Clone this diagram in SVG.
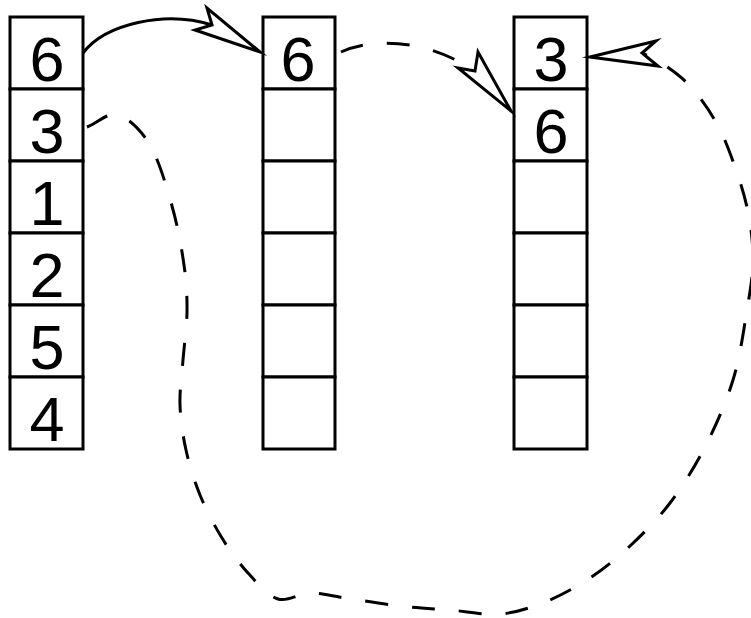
<svg xmlns="http://www.w3.org/2000/svg" width="751" height="618" viewBox="0 0 751 618">
<style>
.cell{fill:#fff;stroke:#000;stroke-width:3}
.num{font-family:"Liberation Sans",Arial,sans-serif;font-size:63px;fill:#000;text-anchor:middle}
.edge{fill:none;stroke:#000;stroke-width:3}
.dash{stroke-dasharray:23 24}
.head{fill:#fff;stroke:#000;stroke-width:3;stroke-linejoin:miter;stroke-miterlimit:10}
</style>
<g id="column-a">
<g id="a1"><rect class="cell" x="10" y="17" width="73" height="72"/><text class="num" x="47" y="81">6</text></g>
<g id="a2"><rect class="cell" x="10" y="89" width="73" height="72"/><text class="num" x="47" y="153">3</text></g>
<g id="a3"><rect class="cell" x="10" y="161" width="73" height="72"/><text class="num" x="47" y="225">1</text></g>
<g id="a4"><rect class="cell" x="10" y="233" width="73" height="72"/><text class="num" x="47" y="297">2</text></g>
<g id="a5"><rect class="cell" x="10" y="305" width="73" height="72"/><text class="num" x="47" y="369">5</text></g>
<g id="a6"><rect class="cell" x="10" y="377" width="73" height="72"/><text class="num" x="47" y="441">4</text></g>
</g>
<g id="column-b">
<g id="b1"><rect class="cell" x="263" y="17" width="72" height="72"/><text class="num" x="298" y="81">6</text></g>
<g id="b2"><rect class="cell" x="263" y="89" width="72" height="72"/></g>
<g id="b3"><rect class="cell" x="263" y="161" width="72" height="72"/></g>
<g id="b4"><rect class="cell" x="263" y="233" width="72" height="72"/></g>
<g id="b5"><rect class="cell" x="263" y="305" width="72" height="72"/></g>
<g id="b6"><rect class="cell" x="263" y="377" width="72" height="72"/></g>
</g>
<g id="column-c">
<g id="c1"><rect class="cell" x="514" y="17" width="73" height="72"/><text class="num" x="551" y="81">3</text></g>
<g id="c2"><rect class="cell" x="514" y="89" width="73" height="72"/><text class="num" x="551" y="153">6</text></g>
<g id="c3"><rect class="cell" x="514" y="161" width="73" height="72"/></g>
<g id="c4"><rect class="cell" x="514" y="233" width="73" height="72"/></g>
<g id="c5"><rect class="cell" x="514" y="305" width="73" height="72"/></g>
<g id="c6"><rect class="cell" x="514" y="377" width="73" height="72"/></g>
</g>
<g id="connectors">
<path class="edge" d="M83,53 C105,24 165,10 212,25"/>
<polygon class="head" points="260,52 207,8 212,25 195,30"/>
<path class="edge dash" d="M341,52 C372,38 425,38 475,71"/>
<polygon class="head" points="511,111 478,52 475,71 458,68"/>
<path class="edge dash" d="M87,127 C97.3,123 107.5,112 118,115 C128.5,118 141,129.8 150,145 C159,160.2 166.3,186 172,206 C177.7,226 181.5,247.3 184,265 C186.5,282.7 187.2,296.2 187,312 C186.8,327.8 184.2,344.5 183,360 C181.8,375.5 179.5,390 180,405 C180.5,420 182.7,435 186,450 C189.3,465 194,480.3 200,495 C206,509.7 214,525 222,538 C230,551 238.7,562.8 248,573 C257.3,583.2 267.7,595.7 278,599 C288.3,602.3 298.8,593.2 310,593 C321.2,592.8 330,595.8 345,598 C360,600.2 382.5,604 400,606 C417.5,608 433.3,608.7 450,610 C466.7,611.3 484.2,615.3 500,614 C515.8,612.7 530,608 545,602 C560,596 575.8,587.3 590,578 C604.2,568.7 616.7,558.5 630,546 C643.3,533.5 657.5,519.5 670,503 C682.5,486.5 694.5,467.5 705,447 C715.5,426.5 726,402.8 733,380 C740,357.2 743.7,330 747,310 C750.3,290 752.8,276.3 753,260 C753.2,243.7 751,227.5 748,212 C745,196.5 740.2,181.7 735,167 C729.8,152.3 724.5,137.5 717,124 C709.5,110.5 699.5,96.3 690,86 C680.5,75.7 668,67.5 660,62 C652,56.5 648,56 642,53"/>
<polygon class="head" points="590,57 656,41 642,53 658,66"/>
</g>
</svg>
